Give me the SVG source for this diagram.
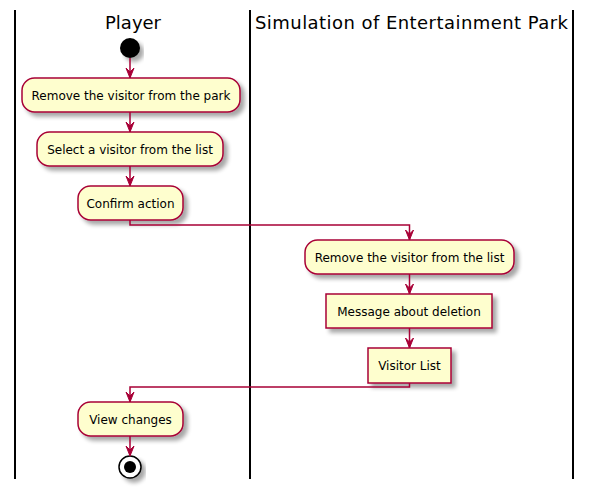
<svg xmlns="http://www.w3.org/2000/svg" width="592" height="494" viewBox="0 0 592 494">
<defs>
<filter id="sh" x="-10%" y="-10%" width="130%" height="150%">
<feGaussianBlur in="SourceAlpha" stdDeviation="2"/>
<feOffset dx="4" dy="4" result="b"/>
<feComponentTransfer><feFuncA type="linear" slope="0.35"/></feComponentTransfer>
<feMerge><feMergeNode/><feMergeNode in="SourceGraphic"/></feMerge>
</filter>
</defs>
<style>
.lane{stroke:#000;stroke-width:2;fill:none}
.title{font-family:"DejaVu Sans",sans-serif;font-size:18px;fill:#000}
.box{fill:#FEFECE;stroke:#A80036;stroke-width:1.5;filter:url(#sh)}
.lbl{font-family:"DejaVu Sans",sans-serif;font-size:12px;fill:#000;text-anchor:middle}
.ln{stroke:#A80036;stroke-width:1.5;fill:none}
.ah{fill:#A80036;stroke:#A80036;stroke-width:1}
</style>
<rect width="592" height="494" fill="#fff"/>
<g id="lanes">
<line class="lane" x1="15" y1="10" x2="15" y2="479"/>
<line class="lane" x1="250" y1="10" x2="250" y2="479"/>
<line class="lane" x1="573" y1="10" x2="573" y2="479"/>
<text class="title" x="105" y="29" textLength="56" lengthAdjust="spacing">Player</text>
<text class="title" x="255" y="29" textLength="313" lengthAdjust="spacing">Simulation of Entertainment Park</text>
</g>
<g id="start"><circle cx="130" cy="48" r="10" fill="#000" filter="url(#sh)"/></g>
<g id="n1"><rect class="box" x="22" y="78" width="218" height="34" rx="12.5"/><text class="lbl" x="131" y="99.5">Remove the visitor from the park</text></g>
<g id="n2"><rect class="box" x="37" y="132" width="186" height="34" rx="12.5"/><text class="lbl" x="130" y="153.5">Select a visitor from the list</text></g>
<g id="n3"><rect class="box" x="78" y="186" width="105" height="34" rx="12.5"/><text class="lbl" x="130.5" y="207.5">Confirm action</text></g>
<g id="n4"><rect class="box" x="305" y="240" width="209" height="34" rx="12.5"/><text class="lbl" x="409.5" y="261.5">Remove the visitor from the list</text></g>
<g id="n5"><rect class="box" x="326" y="294" width="166" height="34"/><text class="lbl" x="409" y="315.5">Message about deletion</text></g>
<g id="n6"><rect class="box" x="368" y="348" width="83" height="35"/><text class="lbl" x="409.5" y="369.5">Visitor List</text></g>
<g id="n7"><rect class="box" x="78" y="402" width="105" height="34" rx="12.5"/><text class="lbl" x="130.5" y="423.5">View changes</text></g>
<g id="end"><circle cx="130" cy="467" r="11" fill="#fff" stroke="#000" stroke-width="1.5" filter="url(#sh)"/><circle cx="130" cy="467" r="6" fill="#000"/></g>
<g id="connectors">
<path class="ln" d="M130 58V78"/><polygon class="ah" points="126,68 130,78 134,68 130,72"/>
<path class="ln" d="M130 112V132"/><polygon class="ah" points="126,122 130,132 134,122 130,126"/>
<path class="ln" d="M130 166V186"/><polygon class="ah" points="126,176 130,186 134,176 130,180"/>
<path class="ln" d="M130 220V225H409.5V240"/><polygon class="ah" points="405.5,230 409.5,240 413.5,230 409.5,234"/>
<path class="ln" d="M409.5 274V294"/><polygon class="ah" points="405.5,284 409.5,294 413.5,284 409.5,288"/>
<path class="ln" d="M409.5 328V348"/><polygon class="ah" points="405.5,338 409.5,348 413.5,338 409.5,342"/>
<path class="ln" d="M409.5 383V387H130V402"/><polygon class="ah" points="126,392 130,402 134,392 130,396"/>
<path class="ln" d="M130 436V456"/><polygon class="ah" points="126,446 130,456 134,446 130,450"/>
</g>
</svg>
